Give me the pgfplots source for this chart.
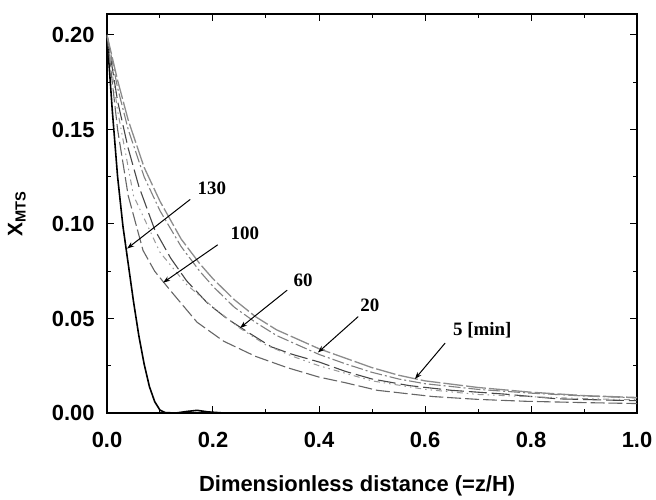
\documentclass[border=0pt]{standalone}
\usepackage{fontspec}
\setmainfont{Liberation Sans}
\newfontfamily\serifb{Liberation Serif}
\usepackage{pgfplots}
\pgfplotsset{compat=1.18}
\usetikzlibrary{arrows.meta}
\pgfplotstableread{
x y
0.00 0.200
0.01 0.160
0.02 0.125
0.03 0.099
0.04 0.079
0.05 0.059
0.06 0.041
0.07 0.026
0.08 0.014
0.09 0.006
0.10 0.0015
0.11 0.0002
0.13 0.0000
0.15 0.0008
0.17 0.0014
0.19 0.0006
0.22 0.0000
1.00 0.0000
}\tOneThirty
\pgfplotstableread{
x y
0.00 0.200
0.02 0.150
0.04 0.115
0.068 0.086
0.09 0.075
0.119 0.065
0.17 0.048
0.22 0.038
0.28 0.030
0.34 0.024
0.40 0.019
0.45 0.016
0.51 0.012
0.615 0.0087
0.70 0.0072
0.79 0.0062
0.90 0.0055
1.00 0.0050
}\tHundred
\pgfplotstableread{
x y
0.00 0.200
0.02 0.165
0.04 0.140
0.06 0.120
0.09 0.097
0.12 0.082
0.15 0.070
0.19 0.058
0.226 0.050
0.27 0.042
0.31 0.035
0.35 0.031
0.40 0.027
0.45 0.022
0.50 0.018
0.57 0.0145
0.65 0.0120
0.75 0.0100
0.85 0.0075
0.95 0.0068
1.00 0.0065
}\tSixty
\pgfplotstableread{
x y
0.00 0.200
0.02 0.160
0.05 0.115
0.10 0.085
0.15 0.068
0.20 0.056
0.25 0.045
0.30 0.036
0.35 0.030
0.40 0.025
0.50 0.017
0.60 0.0125
0.70 0.0098
0.80 0.0086
0.90 0.0076
1.00 0.0070
}\tForty
\pgfplotstableread{
x y
0.00 0.200
0.02 0.172
0.04 0.150
0.07 0.125
0.10 0.107
0.14 0.088
0.175 0.075
0.20 0.067
0.24 0.056
0.28 0.048
0.32 0.041
0.36 0.036
0.40 0.031
0.45 0.026
0.50 0.0215
0.55 0.0180
0.60 0.0155
0.70 0.0125
0.80 0.0105
0.90 0.0090
1.00 0.0080
}\tTwenty
\pgfplotstableread{
x y
0.00 0.200
0.02 0.176
0.04 0.155
0.07 0.130
0.10 0.112
0.14 0.092
0.175 0.079
0.20 0.071
0.24 0.060
0.28 0.051
0.32 0.044
0.36 0.039
0.40 0.034
0.45 0.029
0.50 0.024
0.55 0.020
0.60 0.017
0.70 0.0135
0.80 0.0110
0.90 0.0092
1.00 0.0082
}\tFive
\begin{document}
\begin{tikzpicture}
\begin{axis}[
  scale only axis, width=530bp, height=399bp,
  xmin=0, xmax=1, ymin=0, ymax=0.2111,
  xtick={0,0.2,0.4,0.6,0.8,1.0},
  ytick={0,0.05,0.10,0.15,0.20},
  minor x tick num=1, minor y tick num=1,
  tick align=inside, xtick pos=both, ytick pos=both,
  major tick length=7bp, minor tick length=4bp,
  axis line style={line width=1.5bp},
  every tick/.style={line width=1bp, black},
  ticklabel style={font=\fontsize{22}{26}\selectfont\bfseries},
  xticklabel style={yshift=-16bp, /pgf/number format/.cd, fixed, fixed zerofill, precision=1, assume math mode=true},
  yticklabel style={xshift=-9bp, /pgf/number format/.cd, fixed, fixed zerofill, precision=2, assume math mode=true},
  xlabel={Dimensionless distance (=z/H)},
  xlabel style={font=\fontsize{22}{26}\selectfont\bfseries, at={(axis description cs:0.472,-0.183)}, anchor=center},
  ylabel={X\textsubscript{MTS}},
  ylabel style={font=\fontsize{21}{25}\selectfont\bfseries, at={(axis description cs:-0.17,0.5)}, anchor=center, rotate=0},
  clip=true,
]
\addplot[black, line width=1.6bp] table {\tOneThirty};
\addplot[black!60, line width=1.1bp, dash pattern=on 14pt off 4pt] table {\tHundred};
\addplot[black!72, line width=1.1bp, dash pattern=on 18pt off 5pt] table {\tSixty};
\addplot[black!40, line width=1bp, dash pattern=on 6pt off 4pt on 1.5pt off 4pt on 1.5pt off 4pt] table {\tForty};
\addplot[black!50, line width=1.1bp, dash pattern=on 12pt off 3pt on 2pt off 3pt] table {\tTwenty};
\addplot[black!45, line width=1.3bp, dash pattern=on 20pt off 3pt] table {\tFive};

\begin{scope}[font=\serifb\bfseries\fontsize{19}{22}\selectfont]
\node at (axis cs:0.198,0.119) {130};
\node at (axis cs:0.26,0.095) {100};
\node at (axis cs:0.37,0.070) {60};
\node at (axis cs:0.496,0.057) {20};
\node at (axis cs:0.708,0.044) {5 [min]};
\end{scope}
\begin{scope}[-{Stealth[length=7bp,width=5bp]}, line width=1bp]
\draw (axis cs:0.157,0.113) -- (axis cs:0.038,0.087);
\draw (axis cs:0.209,0.089) -- (axis cs:0.106,0.069);
\draw (axis cs:0.34,0.065) -- (axis cs:0.251,0.045);
\draw (axis cs:0.474,0.051) -- (axis cs:0.398,0.032);
\draw (axis cs:0.638,0.037) -- (axis cs:0.581,0.018);
\end{scope}
\end{axis}
\pgfresetboundingbox
\path (current axis.south west) ++(-107bp,-87bp) rectangle ++(656bp,500bp);
\end{tikzpicture}
\end{document}
